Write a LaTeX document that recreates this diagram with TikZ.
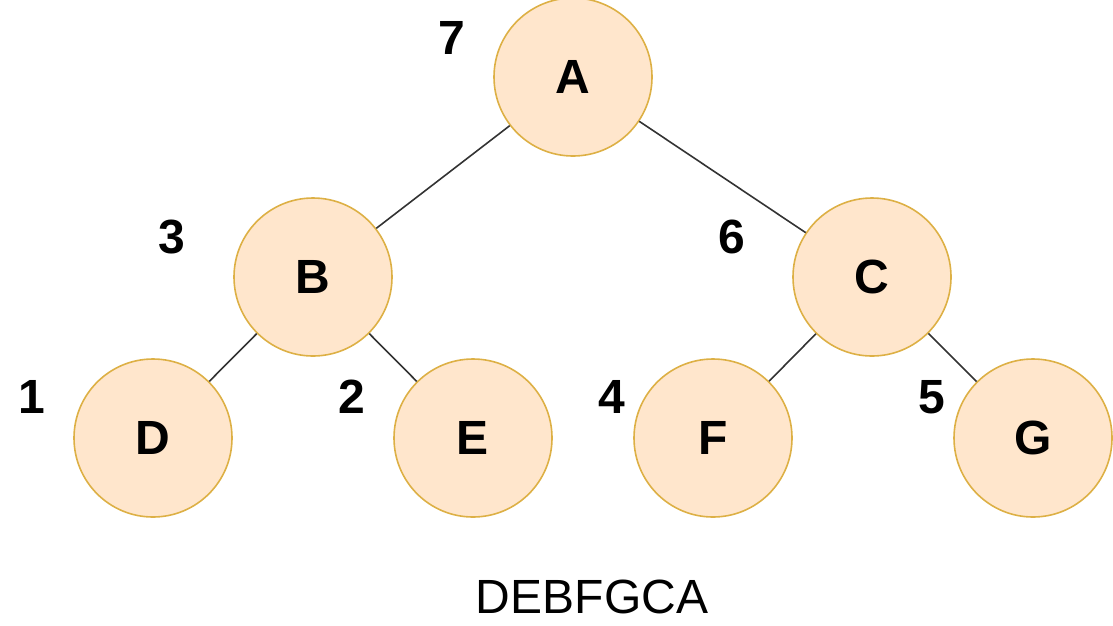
\documentclass[tikz,border=0pt]{standalone}
\usepackage{fontspec}
\setmainfont{Liberation Sans}
\definecolor{nodefill}{HTML}{FFE6CC}
\definecolor{nodeline}{HTML}{DDB045}
\definecolor{edgecol}{HTML}{333333}
\begin{document}
\begin{tikzpicture}[x=1pt,y=-1pt,
  tnode/.style={circle,draw=nodeline,line width=1.6pt,fill=nodefill,minimum size=158pt,inner sep=0pt,font=\fontsize{48}{56}\selectfont\bfseries},
  order/.style={font=\fontsize{48}{56}\selectfont\bfseries,inner sep=0pt},
  edge/.style={draw=edgecol,line width=1.6pt}]
\useasboundingbox (0,0) rectangle (1113,625);
\node[tnode] (A) at (573,77) {A};
\node[tnode] (B) at (313,277) {B};
\node[tnode] (C) at (872,277) {C};
\node[tnode] (D) at (153,438) {D};
\node[tnode] (E) at (473,438) {E};
\node[tnode] (F) at (713,438) {F};
\node[tnode] (G) at (1033,438) {G};
\path[edge] (A) -- (B);
\path[edge] (A) -- (C);
\path[edge] (B) -- (D);
\path[edge] (B) -- (E);
\path[edge] (C) -- (F);
\path[edge] (C) -- (G);
\node[order] (n7) at (452,38) {7};
\node[order] (n3) at (172,237) {3};
\node[order] (n6) at (732,237) {6};
\node[order] (n1) at (32,397) {1};
\node[order] (n2) at (352,397) {2};
\node[order] (n4) at (612,397) {4};
\node[order] (n5) at (932,397) {5};
\node[font=\fontsize{48}{56}\selectfont,inner sep=0pt] (seq) at (592,597) {DEBFGCA};
\end{tikzpicture}
\end{document}
